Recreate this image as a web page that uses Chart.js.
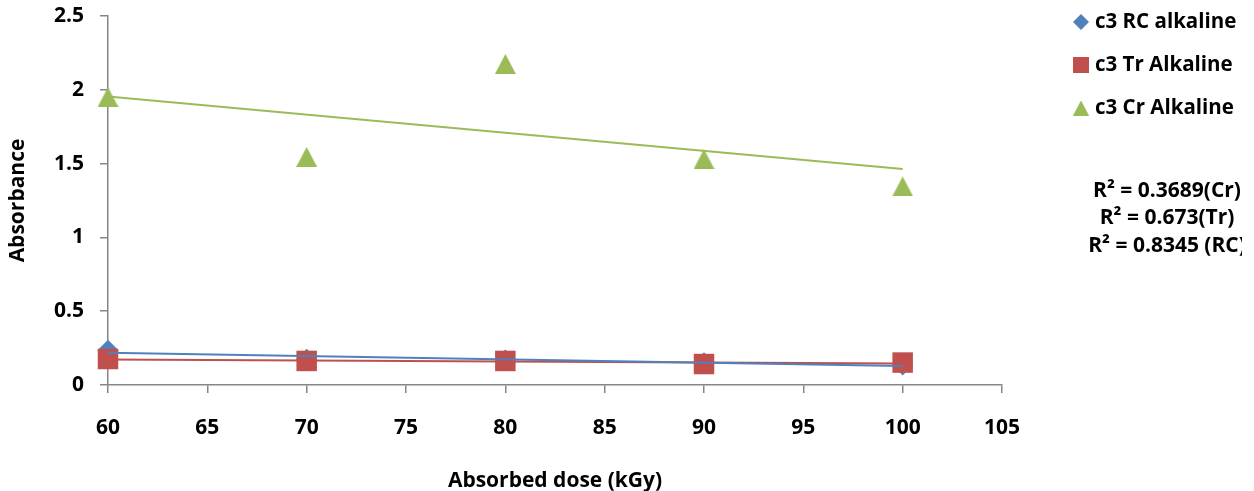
<!DOCTYPE html>
<html>
<head>
<meta charset="utf-8">
<script src="https://cdn.jsdelivr.net/npm/chart.js@4.4.0/dist/chart.umd.min.js"></script>
<style>
html, body { margin: 0; padding: 0; background: #fff; }
</style>
</head>
<body>
<canvas id="myChart" width="1254" height="491"></canvas>
<script>
// data
var doses = [60, 70, 80, 90, 100];
var rcAlkaline = [0.235, 0.175, 0.17, 0.15, 0.135];
var trAlkaline = [0.176, 0.163, 0.163, 0.142, 0.152];
var crAlkaline = [1.95, 1.545, 2.175, 1.53, 1.345];
var seriesNames = ['c3 RC alkaline', 'c3 Tr Alkaline', 'c3 Cr Alkaline'];
var rSquaredText = ['R\u00B2 = 0.3689(Cr)', 'R\u00B2 = 0.673(Tr)', 'R\u00B2 = 0.8345 (RC)'];

var blue = '#4f81bd', red = '#c0504d', green = '#9bbb59';
var axisGrey = '#868686';
var fontFamily = '"Open Sans", Lato, sans-serif';

function points(xs, ys) {
  return xs.map(function (x, i) { return { x: x, y: ys[i] }; });
}

// linear least squares trendline, like Excel's
function trend(xs, ys) {
  var n = xs.length, sx = 0, sy = 0, sxy = 0, sxx = 0;
  for (var i = 0; i < n; i++) {
    sx += xs[i]; sy += ys[i]; sxy += xs[i] * ys[i]; sxx += xs[i] * xs[i];
  }
  var b = (n * sxy - sx * sy) / (n * sxx - sx * sx);
  var a = (sy - b * sx) / n;
  var x0 = xs[0], x1 = xs[n - 1];
  return [{ x: x0, y: a + b * x0 }, { x: x1, y: a + b * x1 }];
}

// triangle centred on its box, as Excel draws it
function triangleImage(w, h, color) {
  var c = document.createElement('canvas');
  c.width = w; c.height = h;
  var g = c.getContext('2d');
  g.fillStyle = color;
  g.beginPath();
  g.moveTo(w / 2, 0);
  g.lineTo(w, h);
  g.lineTo(0, h);
  g.closePath();
  g.fill();
  return c;
}

var bigTriangle = triangleImage(21, 20, green);
var smallTriangle = triangleImage(16, 15, green);

// legend and R² notes on the right
var sidePanel = {
  id: 'sidePanel',
  afterDraw: function (chart) {
    var ctx = chart.ctx;
    ctx.save();
    ctx.font = 'bold 20.5px ' + fontFamily;
    ctx.textBaseline = 'middle';
    var rows = [22, 65, 108];
    var mx = 1081;
    // diamond
    ctx.fillStyle = blue;
    ctx.beginPath();
    ctx.moveTo(mx, rows[0] - 8); ctx.lineTo(mx + 8, rows[0]);
    ctx.lineTo(mx, rows[0] + 8); ctx.lineTo(mx - 8, rows[0]);
    ctx.closePath(); ctx.fill();
    // square
    ctx.fillStyle = red;
    ctx.fillRect(mx - 8, rows[1] - 8, 16, 16);
    // triangle
    ctx.drawImage(smallTriangle, mx - 8, rows[2] - 7.5);
    ctx.fillStyle = '#000';
    ctx.textAlign = 'left';
    for (var i = 0; i < seriesNames.length; i++) {
      ctx.fillText(seriesNames[i], 1095, rows[i]);
    }
    ctx.beginPath();
    ctx.rect(0, 0, 1242, chart.height);
    ctx.clip();
    ctx.font = 'bold 21px ' + fontFamily;
    ctx.textAlign = 'center';
    var lines = [191, 218, 246];
    for (var j = 0; j < rSquaredText.length; j++) {
      ctx.fillText(rSquaredText[j], 1167, lines[j]);
    }
    ctx.restore();
  }
};

var ctx = document.getElementById('myChart').getContext('2d');
var myChart = new Chart(ctx, {
  type: 'scatter',
  data: {
    datasets: [
      {
        label: 'RC trend', data: trend(doses, rcAlkaline), showLine: true,
        borderColor: blue, borderWidth: 2, pointRadius: 0, order: 0
      },
      {
        label: 'Tr trend', data: trend(doses, trAlkaline), showLine: true,
        borderColor: red, borderWidth: 2, pointRadius: 0, order: 1
      },
      {
        label: 'Cr trend', data: trend(doses, crAlkaline), showLine: true,
        borderColor: green, borderWidth: 2, pointRadius: 0, order: 2
      },
      {
        label: seriesNames[2], data: points(doses, crAlkaline),
        pointStyle: bigTriangle, clip: false, order: 3
      },
      {
        label: seriesNames[1], data: points(doses, trAlkaline),
        pointStyle: 'rect', pointRadius: 14.5, borderWidth: 0,
        backgroundColor: red, borderColor: red, clip: false, order: 4
      },
      {
        label: seriesNames[0], data: points(doses, rcAlkaline),
        pointStyle: 'rectRot', pointRadius: 10.5, borderWidth: 0,
        backgroundColor: blue, borderColor: blue, clip: false, order: 5
      }
    ]
  },
  options: {
    responsive: false,
    animation: false,
    events: [],
    layout: { padding: { top: 16, right: 252, left: 0, bottom: 0 } },
    plugins: {
      legend: { display: false },
      tooltip: { enabled: false }
    },
    scales: {
      x: {
        type: 'linear',
        min: 60, max: 105,
        afterFit: function (scale) { scale.height = 106; },
        ticks: {
          stepSize: 5,
          padding: 22,
          color: '#000',
          font: { family: fontFamily, size: 21, weight: 'bold' }
        },
        grid: { drawOnChartArea: false, tickLength: 8, color: axisGrey, lineWidth: 1.5 },
        border: { color: axisGrey, width: 1.5 },
        title: {
          display: true,
          text: 'Absorbed dose (kGy)',
          color: '#000',
          padding: { top: -3, bottom: -3 },
          font: { family: fontFamily, size: 21, weight: 'bold' }
        }
      },
      y: {
        min: 0, max: 2.5,
        afterFit: function (scale) {
          scale.width = 108;
          scale.paddingTop = 0;
          scale.paddingBottom = 0;
        },
        ticks: {
          stepSize: 0.5,
          padding: 16,
          color: '#000',
          font: { family: fontFamily, size: 21, weight: 'bold' },
          callback: function (value) { return String(value); }
        },
        grid: { drawOnChartArea: false, tickLength: 8, color: axisGrey, lineWidth: 1.5 },
        border: { color: axisGrey, width: 1.5 },
        title: {
          display: true,
          text: 'Absorbance',
          color: '#000',
          padding: { top: 5, bottom: 0 },
          font: { family: fontFamily, size: 21, weight: 'bold' }
        }
      }
    }
  },
  plugins: [sidePanel]
});
</script>
</body>
</html>
